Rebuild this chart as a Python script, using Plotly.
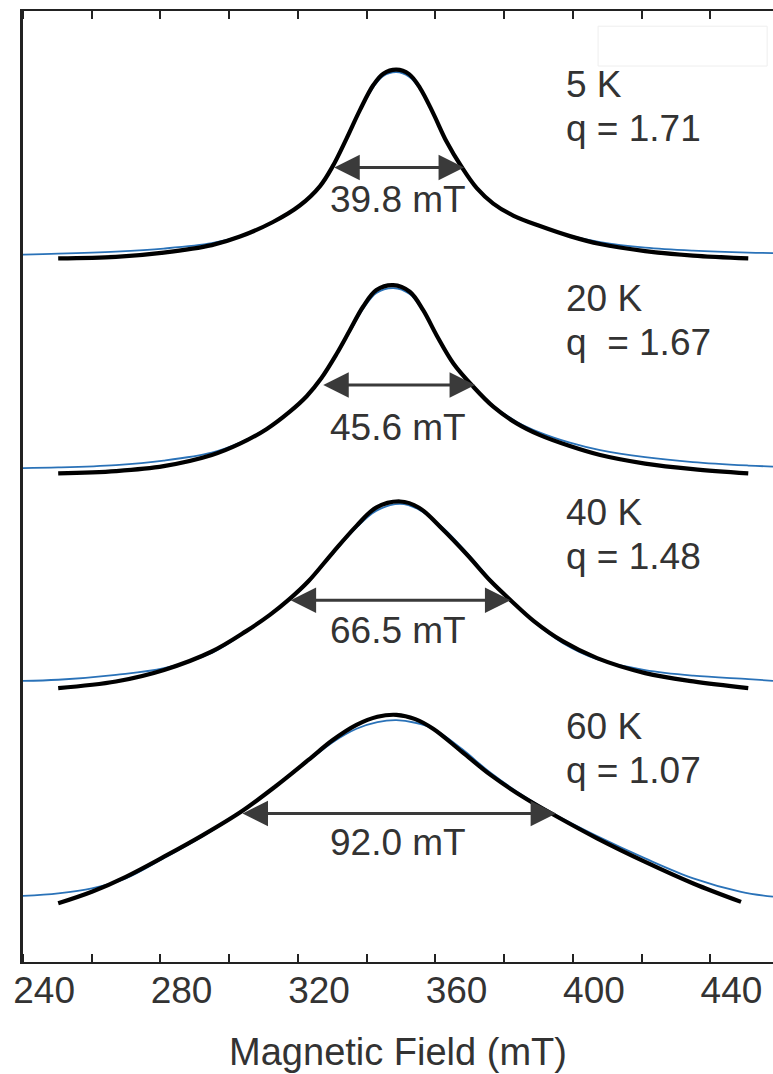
import plotly.graph_objects as go

# ---------------- data (field in mT, intensity in stack units) ----------------
temps = ["5 K", "20 K", "40 K", "60 K"]
q_labels = ["q = 1.71", "q  = 1.67", "q = 1.48", "q = 1.07"]
width_labels = ["39.8 mT", "45.6 mT", "66.5 mT", "92.0 mT"]
offsets = [3.0, 2.0, 1.0, 0.0]

# 5 K
b5_x = [244.1, 260.9, 274.8, 288.8, 297.0, 306.6, 314.4, 320.3, 324.0, 328.0, 331.9, 335.8, 338.7,
        342.5, 346.2, 349.4, 353.2, 357.1, 361.5, 365.9, 370.7, 376.5, 384.3, 393.0, 401.8,
        414.9, 428.8, 444.9]
b5_y = [-0.020, -0.013, 0.007, 0.042, 0.082, 0.150, 0.227, 0.318, 0.411, 0.540, 0.673, 0.790, 0.843,
        0.862, 0.841, 0.776, 0.659, 0.526, 0.407, 0.308, 0.236, 0.180, 0.131, 0.084, 0.047,
        0.014, -0.007, -0.020]
f5_x = [233.8, 244.1, 260.9, 274.8, 288.8, 297.0, 306.6, 314.4, 320.3, 324.0, 328.0, 331.9, 335.8,
        338.7, 342.5, 346.2, 349.4, 353.2, 357.1, 361.5, 365.9, 370.7, 376.5, 384.3, 393.0,
        401.8, 414.9, 428.8, 444.9, 452.1]
f5_y = [-0.002, 0.002, 0.012, 0.026, 0.051, 0.084, 0.147, 0.224, 0.315, 0.407, 0.537, 0.668, 0.780,
        0.832, 0.850, 0.829, 0.771, 0.657, 0.526, 0.407, 0.306, 0.234, 0.178, 0.129, 0.086,
        0.056, 0.030, 0.016, 0.007, 0.005]

# 20 K
b20_x = [244.1, 260.9, 274.8, 288.8, 297.0, 304.7, 311.5, 316.4, 320.7, 325.1, 329.0, 332.8, 336.7,
         341.6, 346.4, 350.3, 354.2, 359.1, 364.9, 370.7, 377.5, 384.3, 393.0, 401.8, 414.9,
         428.8, 444.9]
b20_y = [-0.025, -0.014, 0.009, 0.061, 0.114, 0.182, 0.264, 0.336, 0.421, 0.533, 0.645, 0.754, 0.832,
         0.855, 0.824, 0.738, 0.621, 0.489, 0.380, 0.287, 0.209, 0.154, 0.103, 0.061, 0.021,
         -0.005, -0.025]
f20_x = [233.8, 244.1, 260.9, 274.8, 288.8, 297.0, 304.7, 311.5, 316.4, 320.7, 325.1, 329.0, 332.8,
         336.7, 341.6, 346.4, 350.3, 354.2, 359.1, 364.9, 370.7, 377.5, 384.3, 393.0, 401.8,
         414.9, 428.8, 444.9, 452.1]
f20_y = [0.000, 0.003, 0.014, 0.035, 0.072, 0.119, 0.185, 0.264, 0.334, 0.416, 0.528, 0.638, 0.743,
         0.818, 0.841, 0.813, 0.734, 0.619, 0.488, 0.383, 0.292, 0.217, 0.166, 0.119, 0.084,
         0.051, 0.028, 0.012, 0.007]

# 40 K
b40_x = [244.1, 260.9, 274.9, 288.8, 298.7, 305.7, 311.2, 316.9, 323.9, 330.9, 336.6, 343.6,
         349.1, 356.1, 363.1, 370.0, 375.6, 382.6, 391.0, 400.9, 414.9, 428.9, 444.9]
b40_y = [-0.028, 0.003, 0.057, 0.143, 0.237, 0.314, 0.385, 0.471, 0.603, 0.730, 0.815, 0.844,
         0.815, 0.712, 0.595, 0.471, 0.385, 0.284, 0.190, 0.112, 0.042, 0.003, -0.028]
f40_x = [233.8, 244.1, 260.9, 274.9, 288.8, 298.7, 305.7, 311.2, 316.9, 323.9, 330.9, 336.6, 343.6,
         349.1, 356.1, 363.1, 370.0, 375.6, 382.6, 391.0, 400.9, 414.9, 428.9, 444.9, 452.1]
f40_y = [0.006, 0.011, 0.034, 0.065, 0.136, 0.234, 0.313, 0.383, 0.467, 0.598, 0.722, 0.800, 0.833,
         0.806, 0.720, 0.603, 0.477, 0.388, 0.280, 0.182, 0.107, 0.056, 0.030, 0.014, 0.006]

# 60 K
b60_x = [244.1, 253.9, 263.8, 274.9, 286.2, 297.3, 307.2, 316.9, 323.9, 330.9, 337.0, 342.5,
         348.0, 353.3, 361.6, 370.0, 380.0, 388.4, 400.9, 414.9, 428.9, 442.8]
b60_y = [-0.034, 0.020, 0.090, 0.184, 0.285, 0.394, 0.511, 0.636, 0.728, 0.800, 0.838, 0.847,
         0.827, 0.781, 0.674, 0.565, 0.457, 0.379, 0.270, 0.160, 0.059, -0.027]
f60_x = [233.8, 244.1, 253.9, 263.8, 274.9, 286.2, 297.3, 307.2, 316.9, 323.9, 330.9, 337.0, 342.5,
         348.0, 353.3, 361.6, 370.0, 380.0, 388.4, 400.9, 414.9, 428.9, 442.8, 452.1]
f60_y = [0.001, 0.013, 0.036, 0.083, 0.178, 0.280, 0.393, 0.509, 0.631, 0.718, 0.782, 0.813, 0.822,
         0.810, 0.782, 0.687, 0.575, 0.463, 0.383, 0.280, 0.176, 0.083, 0.020, -0.003]

data_x = [b5_x, b20_x, b40_x, b60_x]
data_y = [b5_y, b20_y, b40_y, b60_y]
fit_x = [f5_x, f20_x, f40_x, f60_x]
fit_y = [f5_y, f20_y, f40_y, f60_y]

# FWHM arrow ends (mT) and height (relative to each spectrum's offset)
arrow_left = [324.0, 320.8, 311.3, 297.3]
arrow_right = [362.2, 365.4, 375.7, 389.0]
arrow_level = [0.405, 0.388, 0.382, 0.386]

x_range = [233.86, 452.1]
y_range = [-0.308, 4.136]

# ---------------- figure ----------------
FONT = "Arial, Liberation Sans, sans-serif"
TXT = "#333333"
fig = go.Figure()

for i in range(4):
    fig.add_trace(go.Scatter(
        x=fit_x[i], y=[v + offsets[i] for v in fit_y[i]], mode="lines",
        line=dict(color="#2a72b8", width=1.8, shape="spline", smoothing=1.0),
        showlegend=False, hoverinfo="skip"))
for i in range(4):
    fig.add_trace(go.Scatter(
        x=data_x[i], y=[v + offsets[i] for v in data_y[i]], mode="lines",
        line=dict(color="#000000", width=4.2, shape="spline", smoothing=1.0),
        showlegend=False, hoverinfo="skip"))

annotations = []
for i in range(4):
    off = offsets[i]
    annotations.append(dict(x=391.4, y=off + 0.794, xref="x", yref="y", text=temps[i],
                            showarrow=False, xanchor="left", yanchor="middle",
                            font=dict(family=FONT, size=37, color=TXT)))
    annotations.append(dict(x=391.4, y=off + 0.586, xref="x", yref="y", text=q_labels[i],
                            showarrow=False, xanchor="left", yanchor="middle",
                            font=dict(family=FONT, size=37, color=TXT)))
    lab_dy = [0.257, 0.192, 0.241, 0.252][i]
    annotations.append(dict(x=343.1, y=off + lab_dy, xref="x", yref="y", text=width_labels[i],
                            showarrow=False, xanchor="center", yanchor="middle",
                            font=dict(family=FONT, size=37, color=TXT)))
    annotations.append(dict(x=arrow_right[i], y=off + arrow_level[i], xref="x", yref="y",
                            ax=arrow_left[i], ay=off + arrow_level[i], axref="x", ayref="y",
                            text="", showarrow=True, arrowhead=2, startarrowhead=2,
                            arrowside="end+start", arrowsize=1.7, startarrowsize=1.7,
                            arrowwidth=3, arrowcolor="#3a3a3a", standoff=0, startstandoff=0))

fig.update_layout(
    width=773, height=1074,
    margin=dict(l=23, r=0, t=11, b=112),
    paper_bgcolor="white", plot_bgcolor="white",
    showlegend=False,
    annotations=annotations,
    shapes=[dict(type="rect", xref="x", yref="y", x0=401.2, x1=450.4, y0=3.879, y1=4.065,
                 line=dict(color="#eeeeee", width=1), fillcolor="white", layer="below")],
    xaxis=dict(
        range=x_range, showgrid=False, zeroline=False,
        showline=True, linecolor="#222222", linewidth=2, mirror="ticks",
        tickmode="linear", tick0=240, dtick=40, ticks="",
        minor=dict(tickmode="linear", tick0=233.86, dtick=20, ticks="inside",
                   ticklen=8, tickcolor="#222222", tickwidth=1.5, showgrid=False),
        tickfont=dict(family=FONT, size=37, color=TXT),
        ticklabelstandoff=-5,
        title=dict(text="Magnetic Field (mT)", font=dict(family=FONT, size=38, color=TXT),
                   standoff=28),
        automargin=False,
    ),
    yaxis=dict(
        range=y_range, showgrid=False, zeroline=False, showticklabels=False,
        ticks="", showline=True, linecolor="#222222", linewidth=2.5, mirror=False,
        automargin=False,
    ),
)

fig.write_html("out.html")
